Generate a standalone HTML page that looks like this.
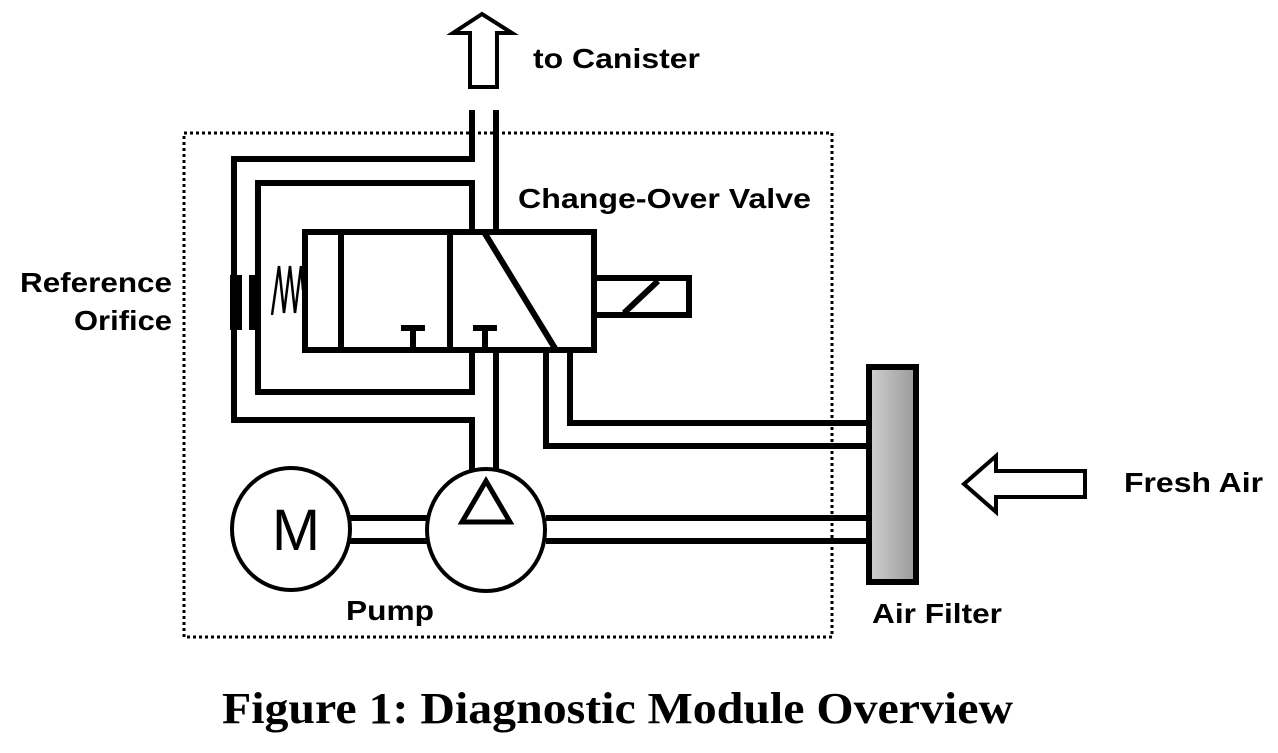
<!DOCTYPE html>
<html><head><style>
body{margin:0;background:#fff;width:1278px;height:748px;overflow:hidden}
text{font-family:"Liberation Sans",Arial,sans-serif;font-weight:bold;font-size:28px;fill:#000}
</style></head><body>
<svg width="1278" height="748" viewBox="0 0 1278 748" xmlns="http://www.w3.org/2000/svg">
<defs><linearGradient id="g" x1="0" x2="1"><stop offset="0" stop-color="#d0d0d0"/><stop offset="1" stop-color="#999"/></linearGradient></defs>
<rect x="184" y="133" width="648" height="504" fill="none" stroke="#000" stroke-width="3" stroke-dasharray="3,3"/>
<g fill="none" stroke="#000" stroke-width="6" stroke-linejoin="miter">
<polygon points="482,14 453,33 470,33 470,87 497,87 497,33 512,33" stroke-width="4"/>
<polygon points="964,484 996,456 996,471 1085,471 1085,497 996,497 996,512" stroke-width="4"/>
<polyline points="472,110 472,159 234,159 234,420 472,420 472,470"/>
<polyline points="472,230 472,183 258,183 258,392 472,392 472,352"/>
<line x1="496" y1="110" x2="496" y2="230"/>
<line x1="496" y1="352" x2="496" y2="470"/>
<polyline points="546,352 546,446 868,446"/>
<polyline points="570,352 570,423 868,423"/>
<line x1="350" y1="518" x2="428" y2="518"/>
<line x1="350" y1="541" x2="428" y2="541"/>
<line x1="546" y1="518" x2="868" y2="518"/>
<line x1="546" y1="541" x2="868" y2="541"/>
<rect x="305" y="232" width="289" height="118"/>
<line x1="341" y1="232" x2="341" y2="350"/>
<line x1="450" y1="232" x2="450" y2="350"/>
<line x1="484" y1="232" x2="556" y2="350"/>
<line x1="413" y1="328" x2="413" y2="350"/>
<line x1="401" y1="328" x2="425" y2="328"/>
<line x1="485" y1="328" x2="485" y2="350"/>
<line x1="473" y1="328" x2="497" y2="328"/>
<rect x="594" y="278" width="95" height="37"/>
<line x1="624" y1="313" x2="658" y2="281"/>
<polyline points="272,315 279,266 284,313 290,266 295,313 301,266 303,290" stroke-width="2.5"/>
<ellipse cx="291" cy="529" rx="59" ry="61" fill="#fff" stroke-width="4"/>
<ellipse cx="486" cy="530" rx="59" ry="61" fill="#fff" stroke-width="4"/>
<polygon points="486,481 462,522 510,522" stroke-width="5"/>
<rect x="869" y="367" width="47" height="215" fill="url(#g)"/>
</g>
<rect x="230" y="275" width="12" height="55" fill="#000"/>
<rect x="249" y="275" width="8" height="55" fill="#000"/>
<text x="272" y="550" textLength="48" lengthAdjust="spacingAndGlyphs" style="font-weight:normal;font-size:58px">M</text>
<text x="533" y="68" textLength="167" lengthAdjust="spacingAndGlyphs">to Canister</text>
<text x="518" y="208" textLength="293" lengthAdjust="spacingAndGlyphs">Change-Over Valve</text>
<text x="20" y="292" textLength="152" lengthAdjust="spacingAndGlyphs">Reference</text>
<text x="74" y="330" textLength="98" lengthAdjust="spacingAndGlyphs">Orifice</text>
<text x="346" y="620" textLength="88" lengthAdjust="spacingAndGlyphs">Pump</text>
<text x="872" y="623" textLength="130" lengthAdjust="spacingAndGlyphs">Air Filter</text>
<text x="1124" y="492" textLength="139" lengthAdjust="spacingAndGlyphs">Fresh Air</text>
<text x="222" y="723" textLength="791" lengthAdjust="spacingAndGlyphs" style="font-family:'Liberation Serif',serif;font-size:44px">Figure 1: Diagnostic Module Overview</text>
</svg>
</body></html>
